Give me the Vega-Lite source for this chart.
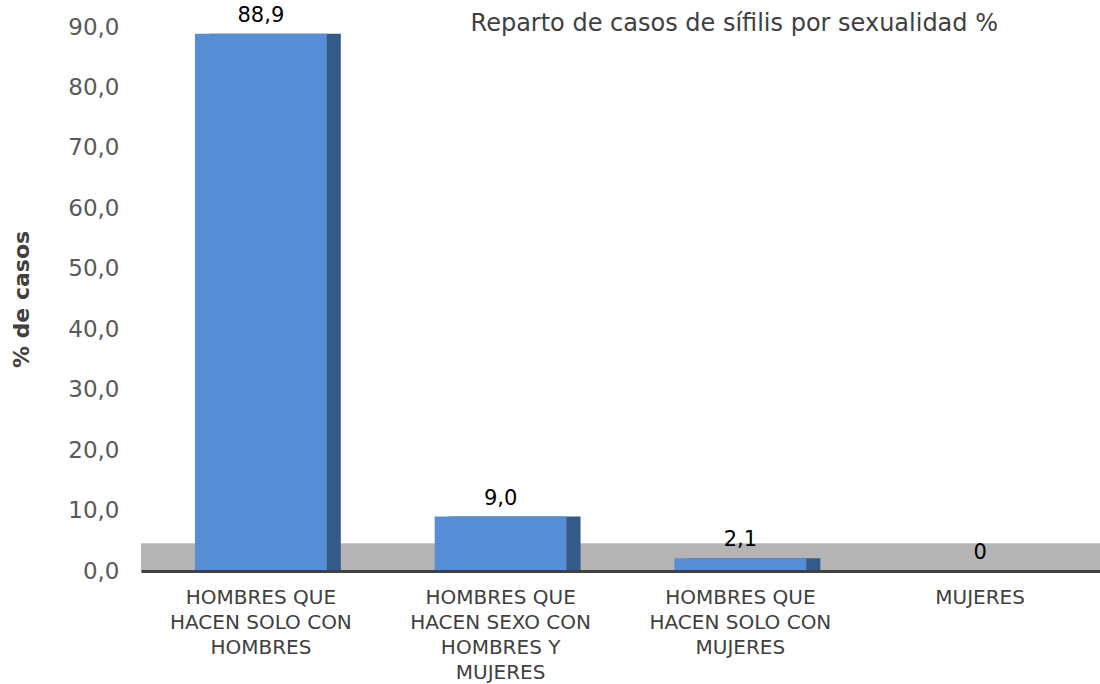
{
  "$schema": "https://vega.github.io/schema/vega-lite/v6.json",
  "width": 959,
  "height": 544,
  "autosize": {"type": "none"},
  "padding": {"left": 141, "top": 27, "right": 0, "bottom": 113},
  "background": "white",
  "title": {
    "text": "Reparto de casos de sífilis por sexualidad %",
    "anchor": "end",
    "frame": "group",
    "orient": "top",
    "offset": -50,
    "dx": -102,
    "baseline": "alphabetic",
    "font": "DejaVu Sans",
    "fontSize": 24,
    "fontWeight": "normal",
    "color": "#404040"
  },
  "config": {
    "view": {"stroke": null},
    "font": "DejaVu Sans"
  },
  "data": {
    "values": [
      {"cat": "HOMBRES QUE|HACEN SOLO CON|HOMBRES", "pct": 88.9, "label": "88,9"},
      {"cat": "HOMBRES QUE|HACEN SEXO CON|HOMBRES Y|MUJERES", "pct": 9.0, "label": "9,0"},
      {"cat": "HOMBRES QUE|HACEN SOLO CON|MUJERES", "pct": 2.1, "label": "2,1"},
      {"cat": "MUJERES", "pct": 0, "label": "0"}
    ]
  },
  "encoding": {
    "x": {
      "field": "cat",
      "type": "nominal",
      "sort": null,
      "scale": {"paddingInner": 0.45, "paddingOuter": 0.225},
      "axis": {
        "title": null,
        "labelAngle": 0,
        "labelExpr": "split(datum.value, '|')",
        "labelFontSize": 20,
        "labelLineHeight": 25,
        "labelLimit": 400,
        "labelColor": "#404040",
        "labelPadding": 16,
        "ticks": false,
        "domainColor": "#404040",
        "domainWidth": 3,
        "zindex": 2
      }
    }
  },
  "layer": [
    {
      "mark": {"type": "rect", "color": "#b4b4b4"},
      "encoding": {
        "x": null,
        "y": {"datum": 0, "type": "quantitative"},
        "y2": {"datum": 4.5}
      }
    },
    {
      "mark": {"type": "bar", "color": "#355a8a", "xOffset": 14},
      "encoding": {
        "y": {"field": "pct", "type": "quantitative"}
      }
    },
    {
      "mark": {"type": "bar", "color": "#558ed5"},
      "encoding": {
        "y": {
          "field": "pct",
          "type": "quantitative",
          "scale": {"domain": [0, 90]},
          "axis": {
            "title": "% de casos",
            "titleFontSize": 22,
            "titleFontWeight": "bold",
            "titleColor": "#404040",
            "titlePadding": 34,
            "values": [0, 10, 20, 30, 40, 50, 60, 70, 80, 90],
            "labelExpr": "replace(format(datum.value, '.1f'), '.', ',')",
            "labelFontSize": 23,
            "labelColor": "#595959",
            "labelPadding": 22,
            "ticks": false,
            "domain": false,
            "gridColor": "#d9d9d9",
            "gridWidth": 1.5
          }
        }
      }
    },
    {
      "mark": {"type": "text", "baseline": "bottom", "dy": -8, "fontSize": 21, "color": "#000000"},
      "encoding": {
        "y": {"field": "pct", "type": "quantitative"},
        "text": {"field": "label"}
      }
    }
  ]
}
